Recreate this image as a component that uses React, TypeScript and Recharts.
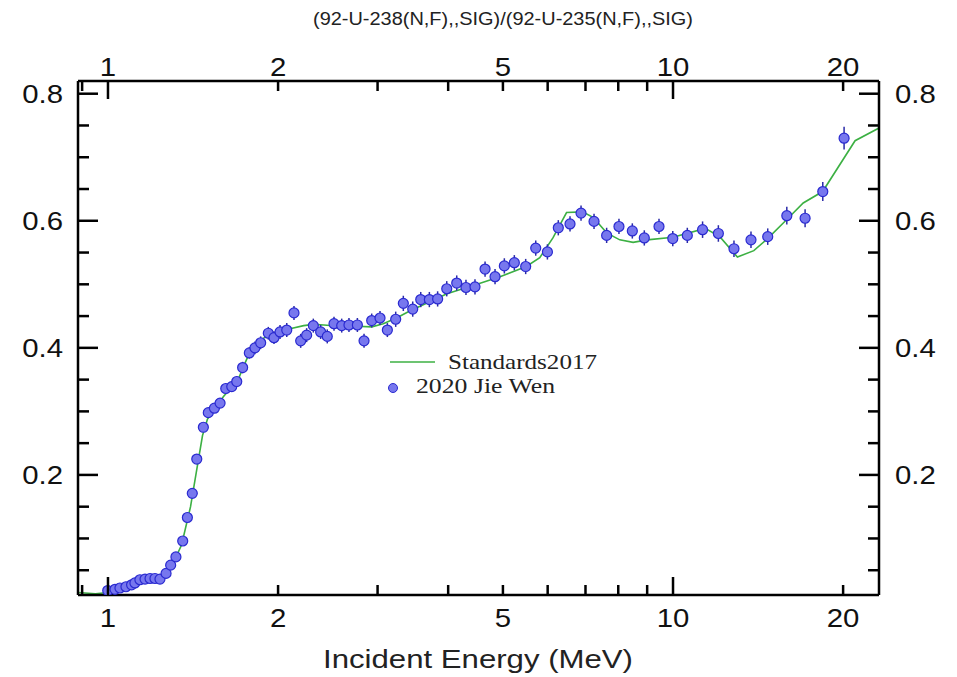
import React from 'react';
import { ComposedChart, Line, Scatter, ErrorBar, XAxis, YAxis, Legend } from 'recharts';

// 2020 Jie Wen measurement (energy in MeV, ratio, 1-sigma)
const jieWenEnergy = [
  0.999, 1.029, 1.05, 1.076, 1.101, 1.116, 1.139, 1.163, 1.187, 1.211, 1.236, 1.267, 1.291, 1.319,
  1.356, 1.382, 1.41, 1.436, 1.475, 1.505, 1.543, 1.579, 1.616, 1.656, 1.69, 1.731, 1.779, 1.82,
  1.863, 1.922, 1.967, 2.016, 2.072, 2.134, 2.193, 2.247, 2.309, 2.379, 2.444, 2.512, 2.592, 2.67,
  2.763, 2.839, 2.929, 3.03, 3.122, 3.23, 3.332, 3.462, 3.577, 3.705, 3.832, 3.977, 4.142, 4.301,
  4.462, 4.649, 4.842, 5.029, 5.238, 5.486, 5.715, 5.994, 6.266, 6.572, 6.874, 7.248, 7.63, 8.023,
  8.472, 8.896, 9.445, 9.99, 10.6, 11.28, 12.03, 12.82, 13.74, 14.71, 15.9, 17.13, 18.41, 20.08,
];
const jieWenRatio = [
  0.018, 0.02, 0.022, 0.024, 0.027, 0.03, 0.035, 0.036, 0.037, 0.037, 0.036, 0.045, 0.058, 0.071,
  0.096, 0.133, 0.171, 0.225, 0.275, 0.298, 0.305, 0.313, 0.336, 0.339, 0.347, 0.369, 0.392, 0.4,
  0.408, 0.423, 0.416, 0.425, 0.428, 0.455, 0.411, 0.42, 0.435, 0.425, 0.418, 0.438, 0.435, 0.436,
  0.436, 0.411, 0.443, 0.447, 0.428, 0.445, 0.47, 0.461, 0.476, 0.476, 0.477, 0.493, 0.502, 0.495,
  0.496, 0.524, 0.512, 0.529, 0.534, 0.528, 0.557, 0.551, 0.589, 0.595, 0.612, 0.599, 0.577, 0.591,
  0.584, 0.573, 0.591, 0.572, 0.577, 0.586, 0.58, 0.556, 0.57, 0.575, 0.608, 0.604, 0.646, 0.73,
];
const jieWenError = [
  0.003, 0.003, 0.003, 0.003, 0.003, 0.003, 0.003, 0.003, 0.003, 0.003, 0.003, 0.004, 0.004, 0.005,
  0.005, 0.006, 0.006, 0.006, 0.007, 0.007, 0.007, 0.007, 0.008, 0.008, 0.008, 0.009, 0.009, 0.01,
  0.01, 0.01, 0.01, 0.011, 0.011, 0.011, 0.011, 0.011, 0.011, 0.011, 0.011, 0.011, 0.011, 0.011,
  0.011, 0.011, 0.011, 0.011, 0.011, 0.012, 0.012, 0.012, 0.012, 0.012, 0.012, 0.012, 0.012, 0.012,
  0.012, 0.012, 0.012, 0.012, 0.012, 0.012, 0.012, 0.012, 0.012, 0.012, 0.012, 0.012, 0.012, 0.012,
  0.012, 0.012, 0.012, 0.012, 0.012, 0.013, 0.013, 0.013, 0.013, 0.013, 0.014, 0.014, 0.015, 0.018,
];

// Standards2017 evaluation
const stdEnergy = [
  0.885, 0.95, 1.0, 1.05, 1.1, 1.15, 1.2, 1.25, 1.3, 1.35, 1.4, 1.44, 1.47, 1.5, 1.55, 1.6, 1.7,
  1.74, 1.78, 1.88, 1.99, 2.1, 2.22, 2.31, 2.41, 2.57, 2.75, 2.93, 3.07, 3.24, 3.42, 3.76, 3.98,
  4.5, 4.94, 5.5, 5.81, 6.13, 6.48, 6.92, 7.23, 7.63, 8.05, 8.5, 9.0, 10.0, 11.4, 12.1, 13.0, 13.9,
  14.7, 15.9, 17.0, 18.4, 21.0, 23.15,
];
const stdRatio = [
  0.015, 0.013, 0.015, 0.021, 0.027, 0.033, 0.036, 0.04, 0.058, 0.09, 0.15, 0.215, 0.262, 0.288,
  0.305, 0.323, 0.35, 0.372, 0.392, 0.415, 0.423, 0.43, 0.435, 0.437, 0.436, 0.434, 0.434, 0.433,
  0.438, 0.447, 0.458, 0.475, 0.485, 0.5, 0.512, 0.528, 0.542, 0.573, 0.613, 0.614, 0.605, 0.581,
  0.57, 0.566, 0.57, 0.574, 0.588, 0.575, 0.543, 0.553, 0.572, 0.602, 0.628, 0.646, 0.726, 0.746,
];

const xTicks = [0.9, 1, 2, 3, 4, 5, 6, 7, 8, 9, 10, 20];
const xLabelled = [1, 2, 5, 10, 20];
const xMajor = [1, 10];
const yTicks = [0.05, 0.1, 0.15, 0.2, 0.25, 0.3, 0.35, 0.4, 0.45, 0.5, 0.55, 0.6, 0.65, 0.7, 0.75, 0.8];
const yLabelled = [0.2, 0.4, 0.6, 0.8];

const title = '(92-U-238(N,F),,SIG)/(92-U-235(N,F),,SIG)';
const xTitle = 'Incident Energy (MeV)';

const jieWenData = jieWenEnergy.map((e, i) => ({ e, v: jieWenRatio[i], err: jieWenError[i] }));
const stdData = stdEnergy.map((e, i) => ({ e, v: stdRatio[i] }));

const SANS = '"Liberation Sans", Arial, sans-serif';
const SERIF = '"Liberation Serif", "Times New Roman", serif';
const GREEN = '#3cb043';

const Stretched = ({ x, y, anchor, children }: any) => (
  <text
    transform={`translate(${x},${y}) scale(1.13,1)`}
    textAnchor={anchor}
    fontSize={26}
    fontFamily={SANS}
    fill="#111"
  >
    {children}
  </text>
);

const xTick = (side: 'top' | 'bottom') => (props: any) => {
  const { x, y, payload } = props;
  const v = payload.value;
  const len = xMajor.includes(v) ? 18 : 10;
  const dir = side === 'bottom' ? -1 : 1;
  return (
    <g>
      <line x1={x} y1={y} x2={x} y2={y + dir * len} stroke="#000" strokeWidth={2.5} />
      {xLabelled.includes(v) && (
        <Stretched x={x} y={side === 'bottom' ? y + 32 : y - 5} anchor="middle">
          {v}
        </Stretched>
      )}
    </g>
  );
};

const yTick = (side: 'left' | 'right') => (props: any) => {
  const { x, y, payload } = props;
  const v = payload.value;
  const major = yLabelled.includes(v);
  const len = major ? 20 : 11;
  const dir = side === 'left' ? 1 : -1;
  return (
    <g>
      <line x1={x} y1={y} x2={x + dir * len} y2={y} stroke="#000" strokeWidth={2.5} />
      {major && (
        <Stretched x={side === 'left' ? x - 15 : x + 16} y={y + 9} anchor={side === 'left' ? 'end' : 'start'}>
          {v.toFixed(1)}
        </Stretched>
      )}
    </g>
  );
};

const renderTitle = () => (
  <text x={503} y={25} textAnchor="middle" fontSize={18} fontFamily={SANS} fill="#222" textLength={380} lengthAdjust="spacingAndGlyphs">
    {title}
  </text>
);

const renderXTitle = () => (
  <text x={478} y={668} textAnchor="middle" fontSize={26} fontFamily={SANS} fill="#222" textLength={310} lengthAdjust="spacingAndGlyphs">
    {xTitle}
  </text>
);

const renderDot = (p: any) => (
  <circle cx={p.cx} cy={p.cy} r={5} fill="#7777ee" stroke="#2a2ad0" strokeWidth={1.2} />
);

const renderLegend = () => (
  <svg width={240} height={56}>
    <line x1={5} y1={14} x2={50} y2={14} stroke={GREEN} strokeWidth={1.6} />
    <text x={63} y={21} fontSize={22} fontFamily={SERIF} fill="#222" textLength={149} lengthAdjust="spacingAndGlyphs">
      Standards2017
    </text>
    <circle cx={8} cy={40} r={4.5} fill="#7777ee" stroke="#2a2ad0" strokeWidth={1} />
    <text x={31} y={45} fontSize={22} fontFamily={SERIF} fill="#222" textLength={139} lengthAdjust="spacingAndGlyphs">
      2020 Jie Wen
    </text>
  </svg>
);

const X_DOMAIN: [number, number] = [0.885, 23.15];
const Y_DOMAIN: [number, number] = [0.011, 0.82];
const axisLine = { stroke: '#000', strokeWidth: 2.5 };

export default function App() {
  return (
    <div style={{ position: 'absolute', left: 0, top: 0, background: '#fff' }}>
      <ComposedChart width={957} height={677} margin={{ top: 0, right: 0, bottom: 0, left: 0 }}>
        <XAxis
          xAxisId="b"
          orientation="bottom"
          type="number"
          dataKey="e"
          scale="log"
          domain={X_DOMAIN}
          allowDataOverflow
          ticks={xTicks}
          interval={0}
          tickSize={0}
          tickMargin={0}
          tickLine={false}
          tick={xTick('bottom')}
          axisLine={axisLine}
          height={82}
          label={renderXTitle}
        />
        <XAxis
          xAxisId="t"
          orientation="top"
          type="number"
          dataKey="e"
          scale="log"
          domain={X_DOMAIN}
          allowDataOverflow
          ticks={xTicks}
          interval={0}
          tickSize={0}
          tickMargin={0}
          tickLine={false}
          tick={xTick('top')}
          axisLine={axisLine}
          height={81}
          label={renderTitle}
        />
        <YAxis
          yAxisId="l"
          orientation="left"
          type="number"
          domain={Y_DOMAIN}
          allowDataOverflow
          ticks={yTicks}
          interval={0}
          tickSize={0}
          tickMargin={0}
          tickLine={false}
          tick={yTick('left')}
          axisLine={axisLine}
          width={78}
        />
        <YAxis
          yAxisId="r"
          orientation="right"
          type="number"
          domain={Y_DOMAIN}
          allowDataOverflow
          ticks={yTicks}
          interval={0}
          tickSize={0}
          tickMargin={0}
          tickLine={false}
          tick={yTick('right')}
          axisLine={axisLine}
          width={78}
        />
        <Line
          xAxisId="b"
          yAxisId="l"
          data={stdData}
          dataKey="v"
          type="linear"
          stroke={GREEN}
          strokeWidth={1.6}
          dot={false}
          activeDot={false}
          isAnimationActive={false}
        />
        <Scatter
          xAxisId="b"
          yAxisId="l"
          data={jieWenData}
          dataKey="v"
          shape={renderDot}
          isAnimationActive={false}
        >
          <ErrorBar dataKey="err" direction="y" width={0} stroke="#2a2aa8" strokeWidth={1.5} isAnimationActive={false} />
        </Scatter>
        <Legend
          layout="horizontal"
          verticalAlign="middle"
          align="center"
          content={renderLegend}
          wrapperStyle={{ left: 385, top: 348, width: 240, height: 56 }}
        />
      </ComposedChart>
    </div>
  );
}
